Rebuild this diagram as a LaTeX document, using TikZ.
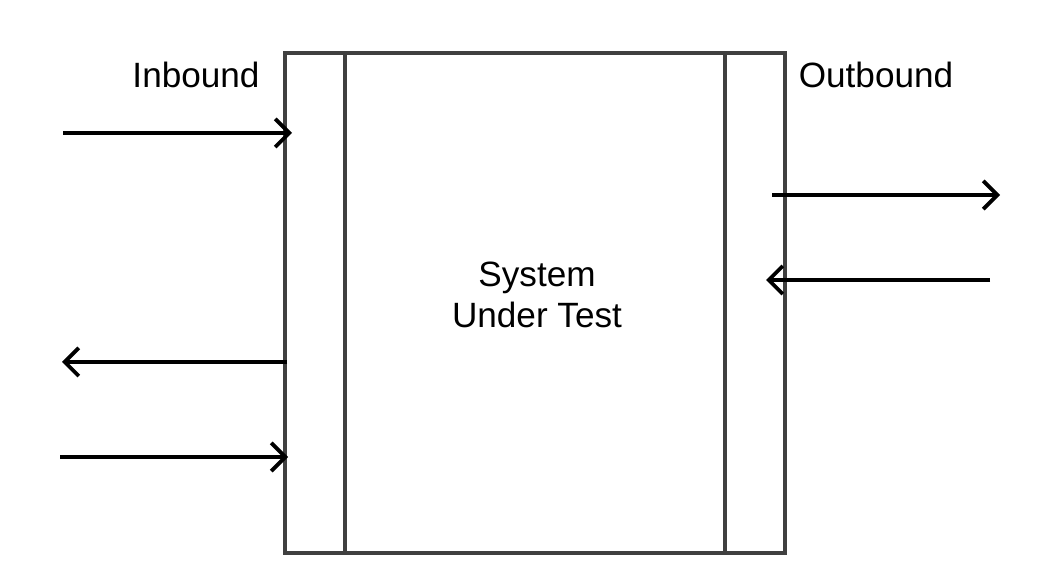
\documentclass[tikz,border=0pt]{standalone}
\usepackage{fontspec}
\setmainfont{Liberation Sans}
\usetikzlibrary{arrows.meta}

\begin{document}
\begin{tikzpicture}[x=0.02cm,y=-0.02cm]
        \tikzstyle{every node}=[font=\fontsize{20}{23}\selectfont, inner sep=0pt]
        \tikzstyle{wall}=[draw=black!75, line width=2.2pt]
        \tikzstyle{flow}=[draw=black, line width=2.2pt, -{Straight Barb[length=8pt,width=16pt,line width=2.2pt]}]
        \useasboundingbox (0,0) rectangle (1048,580);
        \node[wall, rectangle, minimum width=500*0.02cm, minimum height=500*0.02cm] (sut) at (535,303) {};
        \draw[wall] (345,53) coordinate (inTop) -- (345,553) coordinate (inBot);
        \draw[wall] (725,53) coordinate (outTop) -- (725,553) coordinate (outBot);
        \node[align=center] (label) at (537,295) {System\\Under Test};
        \node (inb) at (196,75) {Inbound};
        \node (outb) at (876,75) {Outbound};
        % inbound side
        \coordinate (a1) at (63,133); \coordinate (b1) at (292,133);
        \coordinate (a2) at (287,362); \coordinate (b2) at (62,362);
        \coordinate (a3) at (60,457); \coordinate (b3) at (288,457);
        % outbound side
        \coordinate (a4) at (772,195); \coordinate (b4) at (1000,195);
        \coordinate (a5) at (990,280); \coordinate (b5) at (766,280);
        \foreach \i in {1,...,5} \draw[flow] (a\i) -- (b\i);
    \end{tikzpicture}
\end{document}
